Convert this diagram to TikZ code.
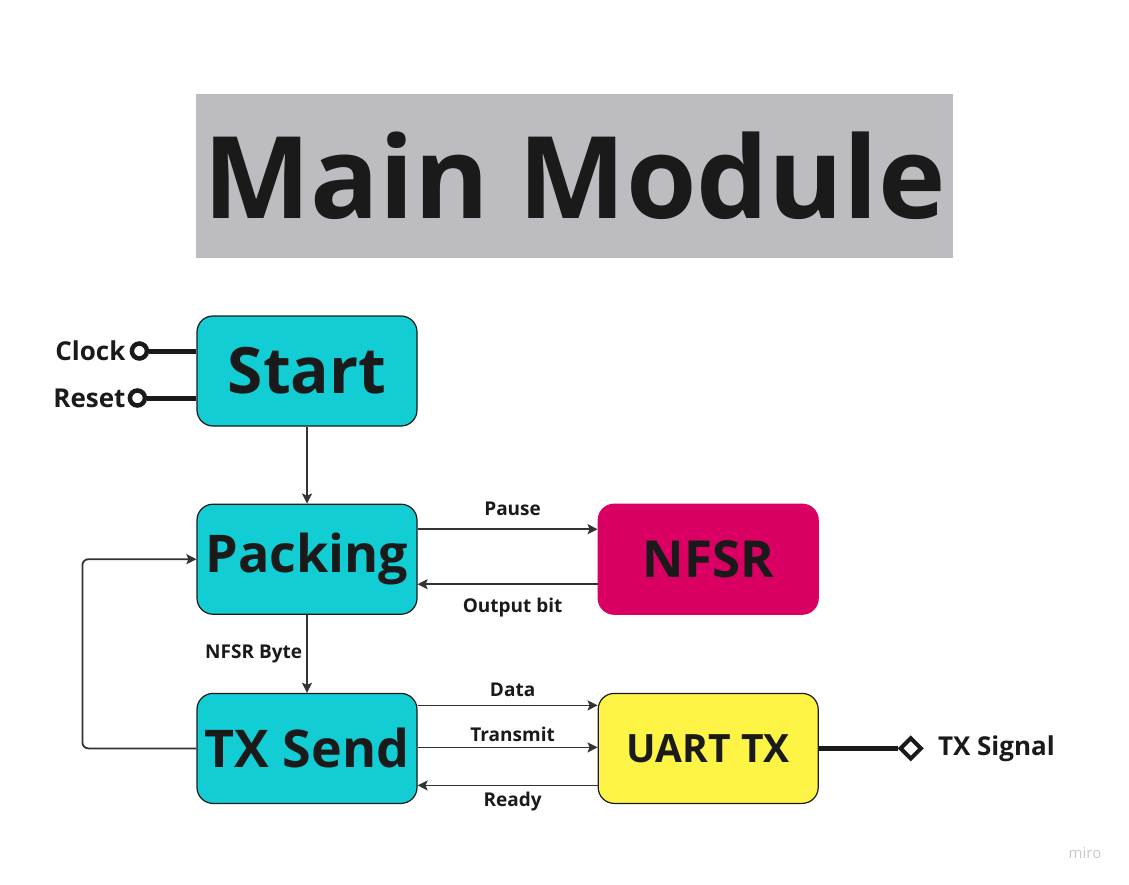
\documentclass[tikz,border=0pt]{standalone}
\usepackage{fontspec}
\setmainfont{Open Sans}
\usepackage{xcolor}
\usepackage{tikz}
\usetikzlibrary{arrows.meta,positioning,calc,shapes.geometric}
\definecolor{InkDark}{HTML}{1A1A1A}
\definecolor{WireGray}{HTML}{333333}
\definecolor{TitleGray}{HTML}{BCBCC1}
\definecolor{StateCyan}{HTML}{12CDD4}
\definecolor{StateMagenta}{HTML}{DA0063}
\definecolor{StateYellow}{HTML}{FEF445}
\definecolor{MarkGray}{HTML}{C8C8CC}
\newcommand{\fsz}[1]{\fontsize{#1}{#1}\selectfont}
\tikzset{
  block/.style={draw=InkDark,line width=1.2pt,rounded corners=16pt,fill=StateCyan,
                minimum width=220pt,minimum height=110pt,inner sep=0pt,
                font=\fsz{52}\bfseries,text=InkDark},
  nfsrblock/.style={block,draw=StateMagenta,fill=StateMagenta,font=\fsz{51}\bfseries},
  uartblock/.style={block,fill=StateYellow,font=\fsz{39}\bfseries},
  flow/.style={-{Stealth[length=10pt,width=10pt,inset=2pt]},line width=1.8pt,draw=WireGray},
  wire/.style={line width=5pt,draw=InkDark},
  pinring/.style={circle,draw=InkDark,line width=4.5pt,fill=white,inner sep=0pt,minimum size=15pt},
  pinport/.style={diamond,draw=InkDark,line width=4pt,fill=white,inner sep=0pt,minimum size=22pt},
  siglabel/.style={font=\fsz{19}\bfseries,text=InkDark,inner sep=2pt},
  iolabel/.style={font=\fsz{26}\bfseries,text=InkDark,inner sep=0pt}
}
\begin{document}
\begin{tikzpicture}[x=1pt,y=-1pt,node distance=77pt and 180pt]
  \useasboundingbox (0,0) rectangle (1129,885);
  \node[fill=TitleGray,minimum width=757pt,minimum height=164pt,inner sep=0pt,
        font=\fsz{114}\bfseries,text=InkDark] (title) at (574.5,176) {Main Module};

  \node[block,font=\fsz{64}\bfseries] (start) at (307,371) {Start};
  \node[block,below=of start] (packing) {Packing};
  \node[block,below=78pt of packing] (txsend) {TX Send};
  \node[nfsrblock,right=of packing] (nfsr) {NFSR};
  \node[uartblock,right=of txsend] (uart) {UART TX};

  % inputs on the left
  \node[pinring] (clkpin) at ($(start.west)+(-57,-20)$) {};
  \node[pinring] (rstpin) at ($(start.west)+(-59,27)$) {};
  \draw[wire] (clkpin) -- (clkpin -| start.west);
  \draw[wire] (rstpin) -- (rstpin -| start.west);
  \node[iolabel,left=4pt of clkpin] (clklbl) {Clock};
  \node[iolabel,left=2pt of rstpin] (rstlbl) {Reset};

  % output on the right
  \node[pinport] (txpin) at ($(uart.east)+(92,0)$) {};
  \draw[wire] (uart.east) -- (txpin);
  \node[iolabel,right=27pt of txpin.center] (txlbl) {TX Signal};

  \draw[flow] (start) -- (packing);
  \draw[flow] (packing) -- node[siglabel,left=2pt] {NFSR Byte} (txsend);
  \draw[flow] ($(packing.east)+(0,-30)$) -- node[siglabel,above=11pt,xshift=5pt] {Pause} ($(nfsr.west)+(0,-30)$);
  \draw[flow] ($(nfsr.west)+(0,25)$) -- node[siglabel,below=11pt,xshift=5pt] {Output bit} ($(packing.east)+(0,25)$);
  \draw[flow] ($(txsend.east)+(0,-43)$) -- node[siglabel,above=6pt,xshift=5pt] {Data} ($(uart.west)+(0,-43)$);
  \draw[flow] ($(txsend.east)+(0,-1)$) -- node[siglabel,above=3pt,xshift=5pt] {Transmit} ($(uart.west)+(0,-1)$);
  \draw[flow] ($(uart.west)+(0,37)$) -- node[siglabel,below=4pt,xshift=5pt] {Ready} ($(txsend.east)+(0,37)$);
  \draw[flow,rounded corners=6pt] (txsend.west) -- ++(-114,0) |- (packing.west);

  \node[font=\fsz{15},text=MarkGray] (miro) at (1085,853) {miro};
\end{tikzpicture}
\end{document}
